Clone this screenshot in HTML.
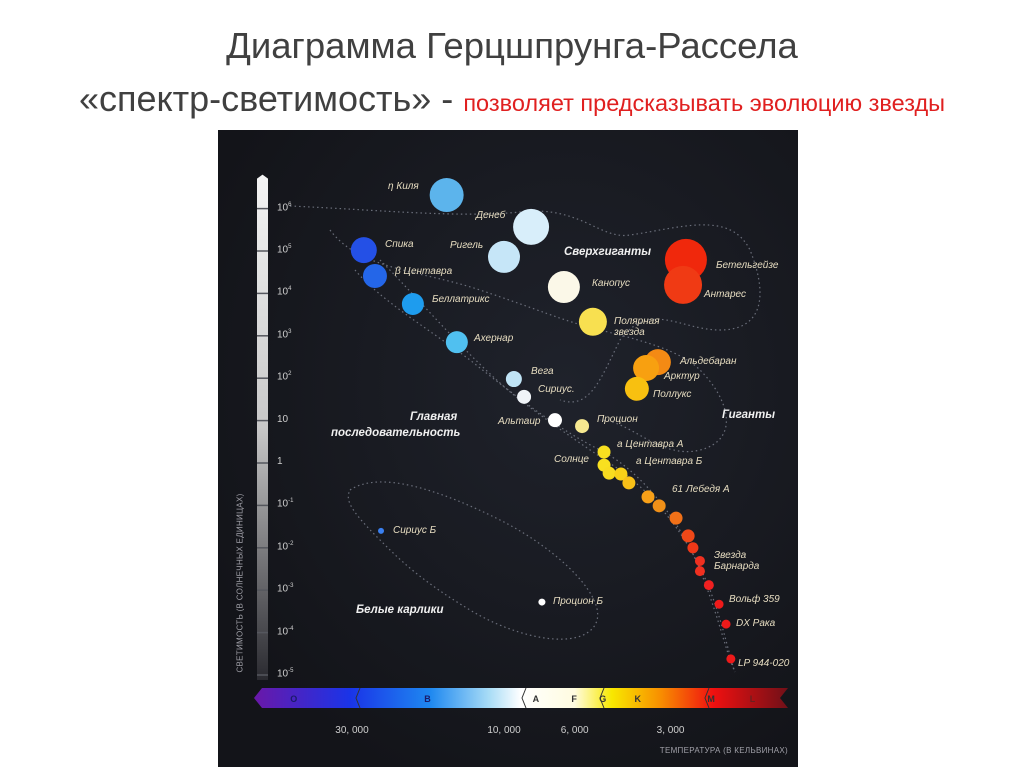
<!DOCTYPE html>
<html><head><meta charset="utf-8">
<style>
body{margin:0;width:1024px;height:767px;background:#fff;overflow:hidden;position:relative;font-family:"Liberation Sans",sans-serif}
.t{position:absolute;white-space:nowrap}
#title1{left:0;width:1024px;text-align:center;top:25px;font-size:36.5px;color:#404040}
#title2{left:0;width:1024px;text-align:center;top:78px;font-size:36px;color:#404040}
#title2 span{color:#e02020;font-size:23.5px}
#panel{position:absolute;left:218px;top:130px;width:580px;height:637px;background:radial-gradient(ellipse at 60% 40%,#1f222b,#131419 80%)}
</style></head><body>
<div class="t" id="title1">Диаграмма Герцшпрунга-Рассела</div>
<div class="t" id="title2">«спектр-светимость» - <span>позволяет предсказывать эволюцию звезды</span></div>
<div id="panel"></div>
<svg id="chart" width="1024" height="767" style="position:absolute;left:0;top:0">
<defs>
<linearGradient id="axg" x1="0" y1="0" x2="0" y2="1"><stop offset="0" stop-color="#f4f4f4"/><stop offset="0.5" stop-color="#c8c8c8"/><stop offset="1" stop-color="#2a2a30"/></linearGradient>
<linearGradient id="spg" x1="254" y1="0" x2="788" y2="0" gradientUnits="userSpaceOnUse">
<stop offset="0" stop-color="#6a18a8"/><stop offset="0.18" stop-color="#1a34e8"/><stop offset="0.33" stop-color="#1e88f0"/><stop offset="0.44" stop-color="#a8dcf6"/><stop offset="0.5" stop-color="#ffffff"/><stop offset="0.6" stop-color="#fffce0"/><stop offset="0.67" stop-color="#f8e800"/><stop offset="0.76" stop-color="#f89000"/><stop offset="0.86" stop-color="#f01010"/><stop offset="1" stop-color="#701018"/></linearGradient>
</defs>
<g id="outlines" fill="none" stroke="#6a6e7a" stroke-width="1.2" stroke-dasharray="1.5 3">
<path d="M290,206 C380,210 460,218 520,212 C580,205 600,240 630,235 C680,228 730,210 750,250 C770,300 760,330 720,330 C680,330 650,300 620,340 C600,380 590,410 560,400" />
<path d="M330,230 C360,270 420,270 480,290 C540,310 560,320 600,330 C640,340 680,350 700,370 C730,400 740,440 700,450 C660,460 630,420 600,420" />
<path d="M355,270 C380,300 430,330 470,360 C520,400 560,430 600,450 C640,470 680,520 700,570 C720,620 725,650 735,672" />
<path d="M380,260 C420,300 470,360 520,400 C560,430 590,450 620,470 C660,500 690,540 710,590 C725,630 730,660 735,672" />
<path d="M350,490 C380,470 440,490 500,520 C560,550 610,600 595,625 C580,650 520,640 470,610 C420,580 400,560 380,540 C350,510 345,500 350,490 Z" />
</g>
<g id="axis"></g>
<g id="stars"></g>
<g id="spectral"></g>
</svg>
<div id="labels" style="position:absolute;left:0;top:0;font-style:italic;font-size:10px;color:#e6dcc0"></div>
<script>
// Chart data
const starNames = ["η Киля","Денеб","Ригель","Спика","β Центавра","Беллатрикс","Ахернар","Вега","Сириус","Альтаир","Процион","Канопус","Полярная звезда","Бетельгейзе","Антарес","Альдебаран","Арктур","Поллукс","α Центавра А","Солнце","ms1","α Центавра Б","ms2","61 Лебедя А","ms3","ms4","ms5","ms6","Звезда Барнарда","ms7","ms8","Вольф 359","DX Рака","LP 944-020","Сириус Б","Процион Б"];
const starLogT = [4.18,3.915,4.0,4.44,4.405,4.286,4.148,3.969,3.937,3.84,3.755,3.812,3.721,3.429,3.438,3.517,3.554,3.583,3.686,3.686,3.67,3.633,3.608,3.548,3.513,3.46,3.422,3.407,3.385,3.385,3.357,3.325,3.303,3.288,4.386,3.881];
const starLogL = [6.32,5.57,4.86,5.02,4.41,3.75,2.85,1.98,1.56,1.01,0.87,4.15,3.33,4.79,4.20,2.38,2.24,1.75,0.26,-0.05,-0.24,-0.26,-0.47,-0.80,-1.01,-1.30,-1.72,-2.00,-2.31,-2.55,-2.88,-3.33,-3.80,-4.62,-1.60,-3.28];
const starRadius = [17,18,16,13,12,11,11,8,7,7,7,16,14,21,19,13,13,12,6.5,6.5,6.5,6.5,6.5,6.5,6.5,6.5,6.5,5.5,5,5,5,4.5,4.5,4.5,3,3.5];
const starColor = ["#5cb4ec","#d8eefa","#c6e6f8","#2450e6","#2466e8","#1e9cee","#50c0f0","#c0e4f6","#f0f4f8","#ffffff","#f6e890","#fbf8e8","#f8e050","#f0280c","#f03a14","#f48a14","#f8a010","#f8c010","#f8e020","#f8e020","#f8dc20","#f8d018","#f8c018","#f8a018","#f09018","#f07018","#f04818","#f03818","#f03020","#f03020","#f02020","#ee1a1a","#ee1a1a","#ee1a1a","#3a80f0","#ffffff"];
const yTickExp = [6,5,4,3,2,1,0,-1,-2,-3,-4,-5];
const xTickTemps = [30000,10000,6000,3000];
const xTickLabels = ["30, 000","10, 000","6, 000","3, 000"];
const spectralClasses = ["O","B","A","F","G","K","M","L"];
const spectralLogT = [4.66,4.24,3.9,3.78,3.69,3.58,3.35,3.22];

const xOf = t => 504 + (4 - t) * 318.6;   // t = log10 temperature
const yOf = l => 463 - l * 42.4;           // l = log10 luminosity
const NS = "http://www.w3.org/2000/svg";
function mk(tag, attrs, parent){const e=document.createElementNS(NS,tag);for(const k in attrs)e.setAttribute(k,attrs[k]);parent.appendChild(e);return e;}

const ax = document.getElementById('axis');
const bar = mk('path',{d:`M257,${yOf(6.8)+4} L262.5,${yOf(6.8)} L268,${yOf(6.8)+4} L268,680 L257,680 Z`,fill:'url(#axg)'},ax);


const lbl = document.getElementById('labels');
yTickExp.forEach(e=>{
  const y=yOf(e);
  const tk=mk('line',{x1:257,x2:268,y1:y,y2:y,stroke:'#55575e','stroke-width':1.5},ax);
  
  
  const d=document.createElement('div');
  d.className='t';
  
  
  d.style.cssText=`left:277px;top:${y-7}px;font-style:normal;font-size:10px;color:#cfcfcf`;
  d.innerHTML = e===0?'1':e===1?'10':`10<sup style="font-size:6px">${e}</sup>`;
  lbl.appendChild(d);
});

const sg=document.getElementById('stars');
starNames.forEach((n,i)=>{
  const c=mk('circle',{cx:xOf(starLogT[i]),cy:yOf(starLogL[i]),r:starRadius[i],fill:starColor[i]},sg);
  
  
});

const sp=document.getElementById('spectral');
const sb=mk('path',{d:'M262,688 L788,688 L780,698 L788,708 L262,708 L254,698 Z',fill:'url(#spg)'},sp);


[356,522,600,705].forEach(x=>{
  const s=mk('path',{d:`M${x+4},688 L${x},698 L${x+4},708`,fill:'none',stroke:'#333','stroke-width':1},sp);
  
  
});
spectralClasses.forEach((c,i)=>{
  const t=mk('text',{x:xOf(spectralLogT[i]),y:702,'text-anchor':'middle','font-size':9,'font-weight':'bold',fill:i===7?'#6a2020':(i<2?'#1a1a6a':'#333'),'font-family':'Liberation Sans'},sp);
  t.textContent=c;
  
  
});
xTickTemps.forEach((T,i)=>{
  const t=mk('text',{x:xOf(Math.log10(T)),y:733,'text-anchor':'middle','font-size':10,fill:'#cfcfcf','font-family':'Liberation Sans'},sp);
  t.textContent=xTickLabels[i];
  
  
});

const notes=[
 ["η Киля",388,187],["Денеб",476,216],["Ригель",450,246],["Спика",385,245],["β Центавра",395,272],["Беллатрикс",432,300],["Ахернар",474,339],["Вега",531,372],["Сириус.",538,390],["Альтаир",498,422],["Процион",597,420],["Канопус",592,284],["Полярная",614,322],["звезда",614,333],["Бетельгейзе",716,266],["Антарес",704,295],["Альдебаран",680,362],["Арктур",664,377],["Поллукс",653,395],["а Центавра А",617,445],["Солнце",554,460],["а Центавра Б",636,462],["61 Лебедя А",672,490],["Звезда",714,556],["Барнарда",714,567],["Вольф 359",729,600],["DX Рака",736,624],["LP 944-020",738,664],["Сириус Б",393,531],["Процион Б",553,602]
];
notes.forEach(n=>{
  const d=document.createElement('div');
  d.className='t';
  
  
  d.style.left=n[1]+'px';d.style.top=(n[2]-6)+'px';
  d.textContent=n[0];
  lbl.appendChild(d);
});
const regions=[["Сверхгиганты",564,246],["Гиганты",722,409],["Главная",410,411],["последовательность",331,427],["Белые карлики",356,604]];
regions.forEach(n=>{
  const d=document.createElement('div');
  d.className='t';
  
  
  d.style.cssText=`left:${n[1]}px;top:${n[2]}px;font-size:11.5px;font-weight:bold;color:#f0f0f0`;
  d.textContent=n[0];
  lbl.appendChild(d);
});
</script>
<div class="t" style="right:236px;top:746px;font-size:8px;color:#a0a0a8;letter-spacing:0.3px">ТЕМПЕРАТУРА (В КЕЛЬВИНАХ)</div>
<div class="t" style="left:240px;top:583px;font-size:8px;color:#a0a0a8;letter-spacing:0.3px;transform:translate(-50%,-50%) rotate(-90deg)">СВЕТИМОСТЬ (В СОЛНЕЧНЫХ ЕДИНИЦАХ)</div>
</body></html>
